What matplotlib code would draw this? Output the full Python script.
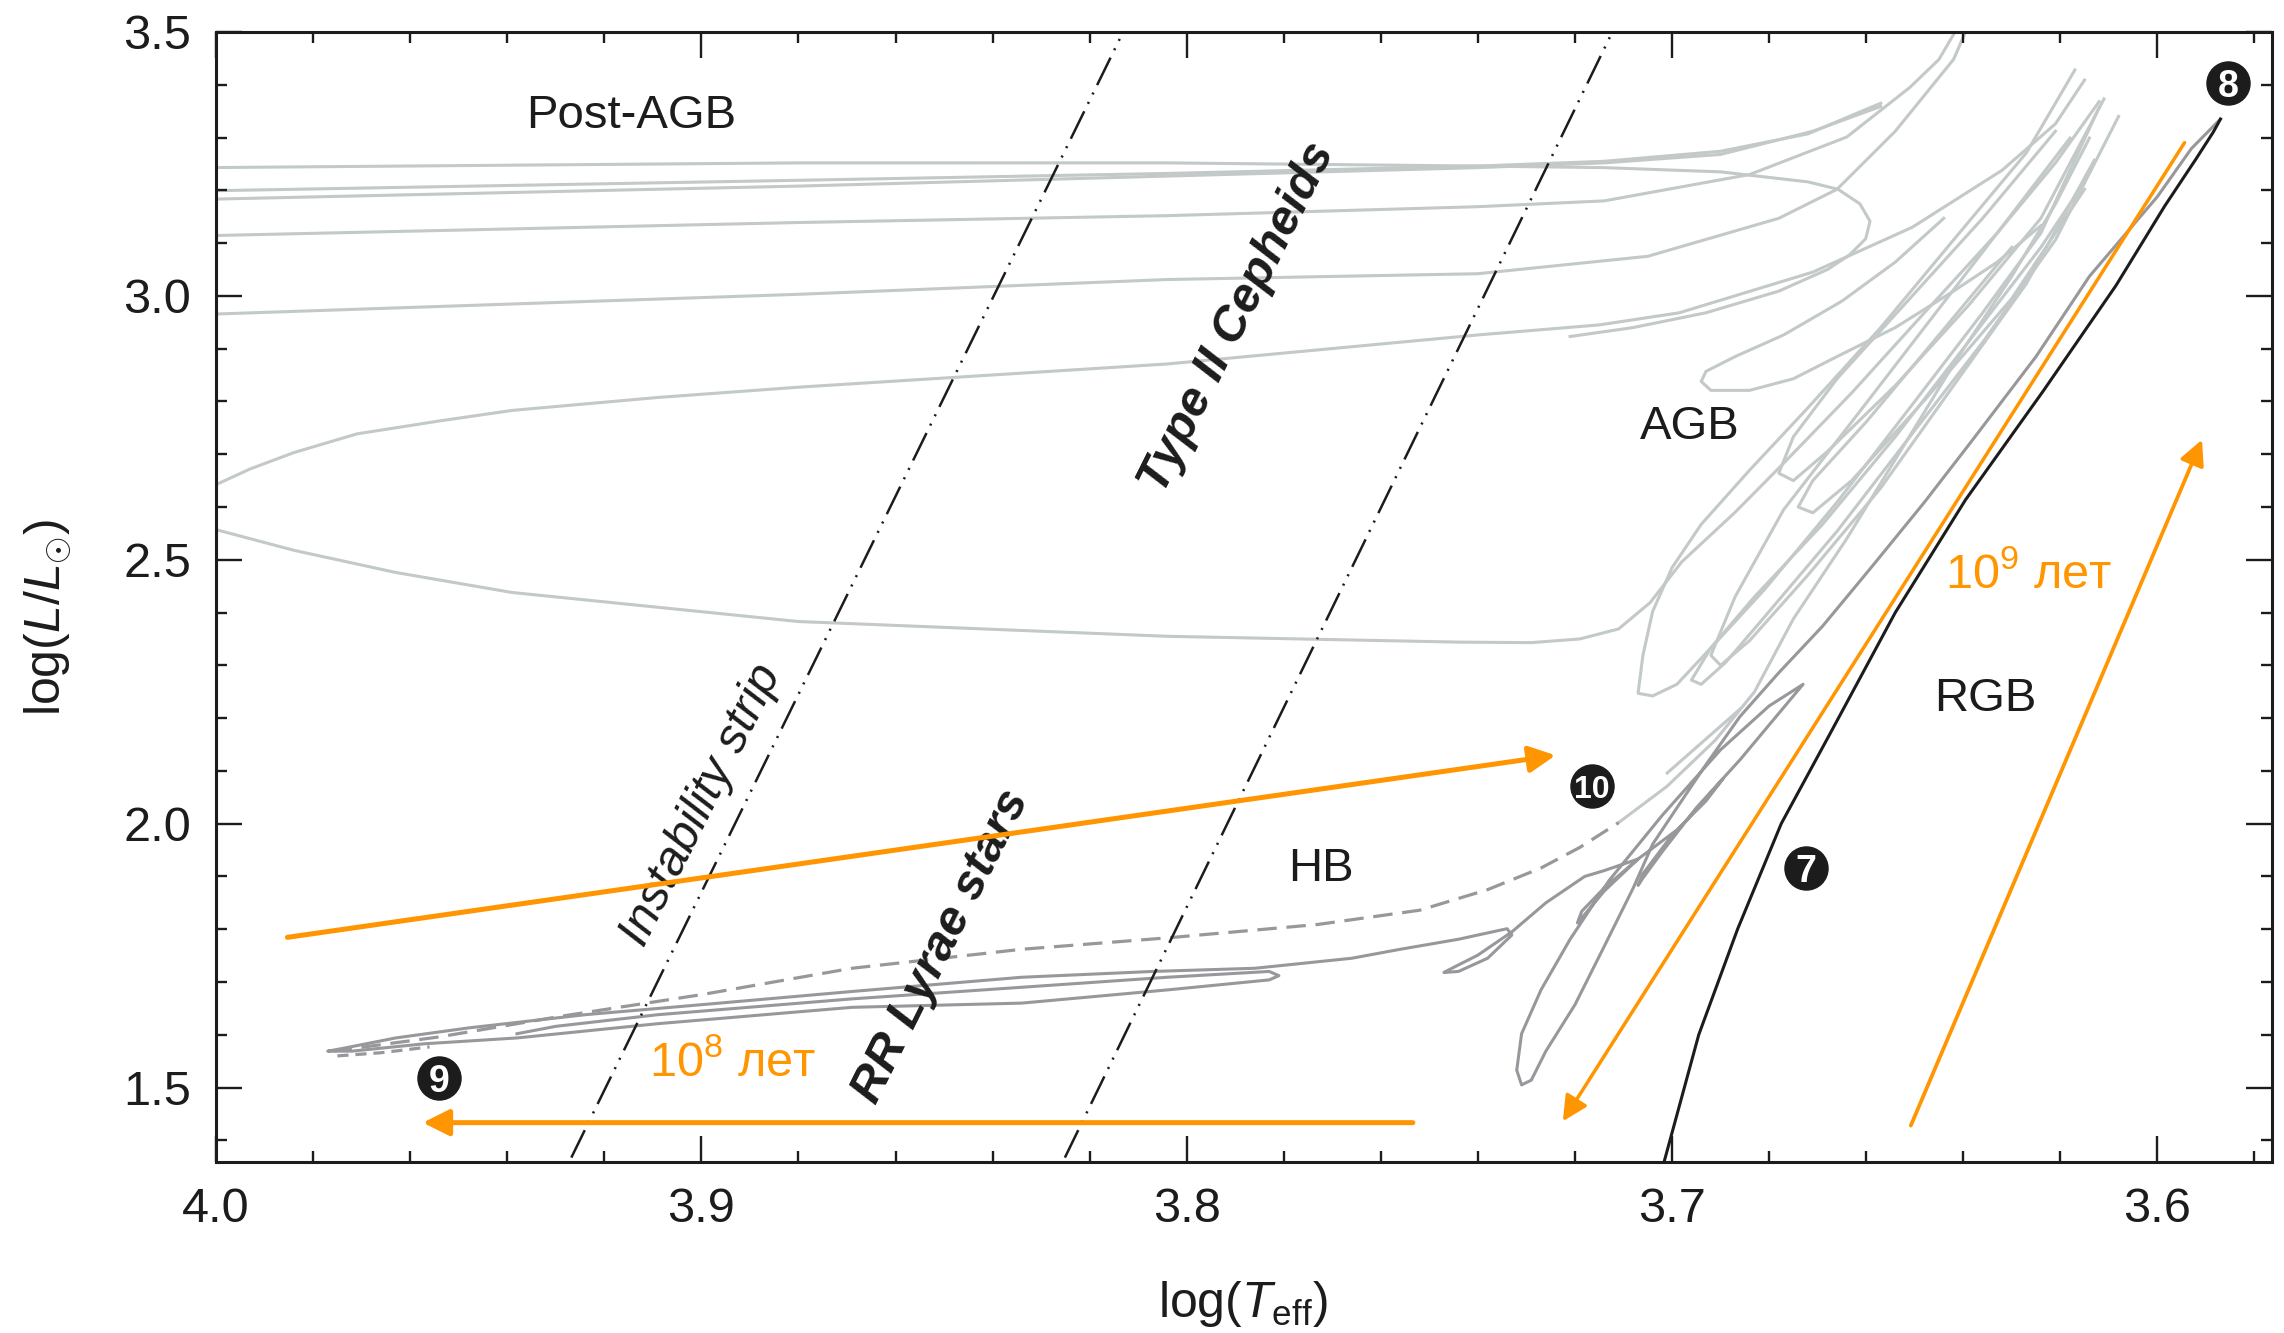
import numpy as np
import matplotlib
matplotlib.use('Agg')
import matplotlib.pyplot as plt
from matplotlib import font_manager
from matplotlib.ticker import MultipleLocator, FormatStrFormatter

#----------------------------------------------------------------
# fonts

installed = {f.name for f in font_manager.fontManager.ttflist}
main_font = 'Liberation Sans' if 'Liberation Sans' in installed else 'DejaVu Sans'
narrow_font = 'Liberation Sans Narrow' if 'Liberation Sans Narrow' in installed else main_font

plt.rcParams['font.family'] = main_font
plt.rcParams['mathtext.fontset'] = 'custom'
plt.rcParams['mathtext.rm'] = main_font
plt.rcParams['mathtext.it'] = main_font + ':italic'
plt.rcParams['mathtext.bf'] = main_font + ':bold'
plt.rcParams['lines.scale_dashes'] = False

LIGHT = '#c3c8c8'
MID = '#98989c'
ORANGE = '#ff9500'
INK = '#1c1c1c'

#----------------------------------------------------------------
# data: log(Teff), log(L/Lsun)

# red giant branch (black)
rgb_logt = [3.7025, 3.6945, 3.6865, 3.6775, 3.6670, 3.6540, 3.6395, 3.6235, 3.6085,
            3.5985, 3.5920, 3.5885, 3.5870]
rgb_logl = [1.33, 1.60, 1.80, 2.00, 2.178, 2.40, 2.614, 2.82, 3.02, 3.17, 3.26, 3.31, 3.335]

# helium flash descent, sub-flash loops and horizontal branch (mid grey)
flash_logt = [3.587, 3.593, 3.600, 3.614, 3.625, 3.638, 3.648, 3.659, 3.669, 3.678,
              3.686, 3.693, 3.699, 3.704, 3.708, 3.714, 3.720, 3.726, 3.729, 3.731,
              3.732, 3.731, 3.727, 3.721, 3.713, 3.702, 3.690, 3.680, 3.673, 3.678,
              3.686, 3.695, 3.702, 3.706, 3.707, 3.706, 3.701, 3.695, 3.6895, 3.693,
              3.699, 3.707, 3.714, 3.718, 3.7195, 3.7186, 3.714, 3.707, 3.714, 3.718,
              3.726, 3.733, 3.740, 3.746, 3.747, 3.744, 3.738, 3.733, 3.734, 3.744,
              3.756, 3.766, 3.786, 3.807, 3.834, 3.869, 3.900, 3.924, 3.948, 3.963,
              3.974, 3.977, 3.972, 3.957, 3.938, 3.909, 3.869, 3.834, 3.804, 3.783,
              3.781, 3.783, 3.804, 3.834, 3.869, 3.909, 3.930, 3.938]
flash_logl = [3.335, 3.279, 3.188, 3.037, 2.885, 2.728, 2.609, 2.485, 2.374, 2.286,
              2.203, 2.112, 2.030, 1.961, 1.878, 1.767, 1.657, 1.569, 1.514, 1.505,
              1.533, 1.602, 1.685, 1.781, 1.892, 2.016, 2.140, 2.223, 2.264, 2.209,
              2.121, 2.030, 1.947, 1.897, 1.883, 1.905, 1.966, 2.027, 2.085, 2.043,
              1.988, 1.933, 1.872, 1.828, 1.812, 1.834, 1.878, 1.933, 1.911, 1.900,
              1.850, 1.795, 1.751, 1.723, 1.718, 1.720, 1.745, 1.789, 1.801, 1.781,
              1.762, 1.745, 1.726, 1.720, 1.709, 1.682, 1.657, 1.638, 1.613, 1.594,
              1.574, 1.569, 1.569, 1.583, 1.594, 1.621, 1.652, 1.660, 1.685, 1.704,
              1.712, 1.720, 1.709, 1.690, 1.668, 1.638, 1.616, 1.602]

# return from the blue end of the HB (dashed)
hb_dash_logt = [3.976, 3.954, 3.929, 3.900, 3.869, 3.834, 3.8035, 3.773, 3.752, 3.738,
                3.727, 3.719, 3.711]
hb_dash_logl = [1.569, 1.596, 1.635, 1.676, 1.726, 1.762, 1.784, 1.809, 1.836, 1.875,
                1.916, 1.955, 2.002]
hb_dash2_logt = [3.975, 3.966, 3.956]
hb_dash2_logl = [1.560, 1.566, 1.577]

# early AGB (light grey)
eagb_logt = [3.711, 3.701, 3.691, 3.683, 3.675, 3.664, 3.653, 3.641, 3.630, 3.621, 3.614]
eagb_logl = [2.002, 2.071, 2.159, 2.250, 2.388, 2.540, 2.705, 2.885, 3.037, 3.174, 3.299]
eagb_short_logt = [3.701, 3.686]
eagb_short_logl = [2.096, 2.217]

# post-AGB excursions
pagb1_logt = [4.002, 3.880, 3.804, 3.740, 3.714, 3.690, 3.672, 3.6658, 3.6613, 3.6592,
              3.6601, 3.6634, 3.6679, 3.678, 3.693, 3.708, 3.721]
pagb1_logl = [3.243, 3.252, 3.252, 3.246, 3.243, 3.235, 3.216, 3.202, 3.1745, 3.1414,
              3.1082, 3.0779, 3.0503, 3.009, 2.968, 2.940, 2.923]
pagb2_logt = [4.002, 3.880, 3.804, 3.740, 3.714, 3.690, 3.672, 3.657]
pagb2_logl = [3.199, 3.219, 3.232, 3.246, 3.255, 3.274, 3.307, 3.365]
pagb3_logt = [4.002, 3.880, 3.804, 3.740, 3.714, 3.690, 3.671, 3.657]
pagb3_logl = [3.183, 3.208, 3.227, 3.243, 3.252, 3.268, 3.312, 3.359]
pagb4_logt = [4.002, 3.880, 3.804, 3.740, 3.714, 3.684, 3.664, 3.651, 3.645, 3.641]
pagb4_logl = [3.114, 3.139, 3.152, 3.169, 3.180, 3.230, 3.301, 3.395, 3.448, 3.511]
pagb5_logt = [4.002, 3.880, 3.804, 3.740, 3.705, 3.678, 3.666, 3.654, 3.642, 3.639]
pagb5_logl = [2.965, 3.003, 3.031, 3.042, 3.075, 3.147, 3.202, 3.312, 3.448, 3.511]
bigloop_logt = [3.615, 3.621, 3.632, 3.6505, 3.671, 3.6985, 3.715, 3.740, 3.804, 3.880,
                3.909, 3.939, 3.954, 3.971, 3.984, 3.993, 4.002, 4.012,
                4.002, 3.993, 3.984, 3.963, 3.939, 3.880, 3.804, 3.744, 3.729, 3.719,
                3.711, 3.7045, 3.698, 3.687, 3.677, 3.663, 3.648, 3.633, 3.621, 3.612]
bigloop_logl = [3.409, 3.326, 3.238, 3.130, 3.045, 2.968, 2.945, 2.926, 2.871, 2.827,
                2.8075, 2.783, 2.763, 2.7385, 2.703, 2.672, 2.634, 2.600,
                2.562, 2.540, 2.518, 2.476, 2.438, 2.383, 2.355, 2.344, 2.343, 2.350,
                2.369, 2.419, 2.496, 2.590, 2.683, 2.816, 2.968, 3.119, 3.252, 3.368]

# thermal pulse loops on the AGB
agb1_logt = [3.617, 3.627, 3.642, 3.657, 3.672, 3.684, 3.694, 3.700, 3.704, 3.706,
             3.707, 3.704, 3.699, 3.692, 3.681, 3.666, 3.651, 3.636, 3.624, 3.612]
agb1_logl = [3.428, 3.271, 3.106, 2.940, 2.788, 2.670, 2.567, 2.485, 2.402, 2.319,
             2.247, 2.242, 2.264, 2.333, 2.443, 2.609, 2.788, 2.968, 3.119, 3.357]
agb2_logt = [3.615, 3.624, 3.639, 3.654, 3.669, 3.683, 3.692, 3.696, 3.694, 3.689,
             3.680, 3.666, 3.651, 3.636, 3.621, 3.608]
agb2_logl = [3.216, 3.092, 2.912, 2.733, 2.567, 2.430, 2.333, 2.272, 2.264, 2.305,
             2.402, 2.554, 2.733, 2.912, 3.106, 3.340]
agb3_logt = [3.618, 3.633, 3.648, 3.663, 3.677, 3.687, 3.692, 3.690, 3.684, 3.672,
             3.657, 3.642, 3.627, 3.613]
agb3_logl = [3.299, 3.119, 2.940, 2.761, 2.595, 2.430, 2.319, 2.300, 2.347, 2.471,
             2.636, 2.830, 3.023, 3.257]
agb4_logt = [3.621, 3.636, 3.651, 3.666, 3.675, 3.678, 3.675, 3.668, 3.654, 3.639,
             3.624, 3.611]
agb4_logl = [3.312, 3.147, 2.995, 2.843, 2.733, 2.664, 2.650, 2.705, 2.830, 2.981,
             3.147, 3.373]
agb5_logt = [3.630, 3.645, 3.660, 3.671, 3.674, 3.671, 3.663, 3.648, 3.630, 3.615]
agb5_logl = [3.092, 2.926, 2.761, 2.650, 2.600, 2.589, 2.650, 2.802, 2.995, 3.202]
agb6_logt = [3.644, 3.654, 3.665, 3.677, 3.687, 3.693, 3.694, 3.692, 3.684, 3.675,
             3.666, 3.654, 3.642, 3.633, 3.624]
agb6_logl = [3.147, 3.064, 2.990, 2.926, 2.885, 2.857, 2.838, 2.821, 2.821, 2.843,
             2.885, 2.940, 3.009, 3.064, 3.133]

light_tracks = [
    (pagb1_logt, pagb1_logl), (pagb2_logt, pagb2_logl), (pagb3_logt, pagb3_logl),
    (pagb4_logt, pagb4_logl), (pagb5_logt, pagb5_logl), (bigloop_logt, bigloop_logl),
    (agb1_logt, agb1_logl), (agb2_logt, agb2_logl), (agb3_logt, agb3_logl),
    (agb4_logt, agb4_logl), (agb5_logt, agb5_logl), (agb6_logt, agb6_logl),
    (eagb_logt, eagb_logl), (eagb_short_logt, eagb_short_logl),
]

# instability strip edges
strip_logl = [1.3673, 3.5]
strip_blue_logt = [3.9268, 3.8131]
strip_red_logt = [3.8251, 3.7123]

# orange time-scale arrows: (start, end)
arrow_hb_logt, arrow_hb_logl = [3.9853, 3.724], [1.7846, 2.1295]
arrow_blue_logt, arrow_blue_logl = [3.7534, 3.9574], [1.4335, 1.4335]
arrow_down_logt, arrow_down_logl = [3.5944, 3.7225], [3.2903, 1.4363]
arrow_up_logt, arrow_up_logl = [3.6508, 3.5908], [1.428, 2.7275]

# numbered evolutionary stages
stage_names = ['7', '8', '9', '10']
stage_logt = [3.6724, 3.5854, 3.9541, 3.7165]
stage_logl = [1.9163, 3.4034, 1.519, 2.0708]

# region labels
region_names = ['Post-AGB', 'AGB', 'HB', 'RGB']
region_logt = [3.9145, 3.6964, 3.7723, 3.6355]
region_logl = [3.34, 2.7523, 1.9136, 2.2364]

x_ticks = [4.0, 3.9, 3.8, 3.7, 3.6]
y_ticks = [1.5, 2.0, 2.5, 3.0, 3.5]

#----------------------------------------------------------------
# figure

fig = plt.figure(figsize=(22.84, 13.33), dpi=100)
ax = fig.add_axes([0.0946, 0.1283, 0.9001, 0.8477])

for t, l in light_tracks:
    ax.plot(t, l, color=LIGHT, lw=2.2, solid_joinstyle='round', zorder=1)

ax.plot(flash_logt, flash_logl, color=MID, lw=2.2, solid_joinstyle='round', zorder=2)
ax.plot(hb_dash_logt, hb_dash_logl, color=MID, lw=2.3, ls=(0, (14, 7)), zorder=2)
ax.plot(hb_dash2_logt, hb_dash2_logl, color=MID, lw=2.3, ls=(0, (8, 5)), zorder=2)
ax.plot(rgb_logt, rgb_logl, color=INK, lw=2.2, zorder=3)

dashdotdot = (0, (22, 6, 1.5, 6, 1.5, 6))
ax.plot(strip_blue_logt, strip_logl, color=INK, lw=1.8, ls=dashdotdot, zorder=2.5)
ax.plot(strip_red_logt, strip_logl, color=INK, lw=1.8, ls=dashdotdot, zorder=2.5)

# arrows
for at, al, lw, ms in [(arrow_hb_logt, arrow_hb_logl, 3.6, 40),
                       (arrow_blue_logt, arrow_blue_logl, 3.6, 40),
                       (arrow_down_logt, arrow_down_logl, 2.5, 38),
                       (arrow_up_logt, arrow_up_logl, 2.7, 38)]:
    ax.annotate('', xy=(at[1], al[1]), xytext=(at[0], al[0]),
                arrowprops=dict(arrowstyle='-|>', color=ORANGE, lw=lw,
                                mutation_scale=ms, shrinkA=0, shrinkB=0),
                zorder=4)

# stage markers
ax.plot(stage_logt, stage_logl, 'o', ms=31, color=INK, zorder=5)
for name, t, l in zip(stage_names, stage_logt, stage_logl):
    ax.text(t, l, name, color='white', fontsize=27 if len(name) == 1 else 23,
            family=narrow_font, fontweight='bold', ha='center',
            va='center_baseline', zorder=6)

# labels
for name, t, l in zip(region_names, region_logt, region_logl):
    ax.text(t, l, name, fontsize=34, color=INK, ha='center', va='center')

ax.text(3.7894, 2.9592, 'Type II Cepheids', fontsize=35, fontweight='bold',
        style='italic', color=INK, rotation=63.5, ha='center', va='center',
        rotation_mode='anchor')
ax.text(3.8506, 1.7673, 'RR Lyrae stars', fontsize=35, fontweight='bold',
        style='italic', color=INK, rotation=63.5, ha='center', va='center',
        rotation_mode='anchor')
ax.text(3.900, 2.035, 'Instability strip', fontsize=35, style='italic',
        color=INK, rotation=63.5, ha='center', va='center', rotation_mode='anchor')

ax.text(3.8935, 1.5466, '10$^8$ лет', fontsize=35, color=ORANGE, ha='center', va='center')
ax.text(3.6265, 2.4709, '10$^9$ лет', fontsize=35, color=ORANGE, ha='center', va='center')

# axes
ax.set_xlim(4.0, 3.5764)
ax.set_ylim(1.359, 3.5)
ax.set_xticks(x_ticks)
ax.set_yticks(y_ticks)
ax.xaxis.set_minor_locator(MultipleLocator(0.02))
ax.yaxis.set_minor_locator(MultipleLocator(0.1))
ax.xaxis.set_major_formatter(FormatStrFormatter('%.1f'))
ax.yaxis.set_major_formatter(FormatStrFormatter('%.1f'))
ax.tick_params(which='both', direction='in', top=True, right=True, width=1.7,
               color=INK, labelcolor=INK)
ax.tick_params(which='major', length=19, labelsize=35, pad=18)
ax.tick_params(which='minor', length=8)
for sp in ax.spines.values():
    sp.set_linewidth(2.2)
    sp.set_color(INK)

fig.text(0.021, 0.537, r'log($L/L_{\odot}$)', fontsize=36, rotation=90,
         ha='center', va='center', color=INK)
fig.text(0.544, 0.012, r'log($T_{\rm eff}$)', fontsize=36, ha='center',
         va='baseline', color=INK)

fig.savefig('out.png', dpi=100)
